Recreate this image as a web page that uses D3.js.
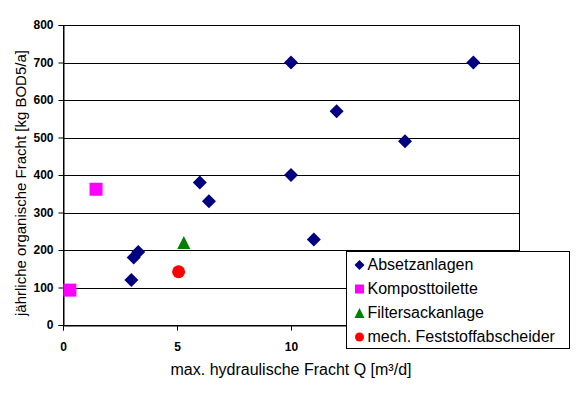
<!DOCTYPE html>
<html>
<head>
<meta charset="utf-8">
<script src="https://cdn.jsdelivr.net/npm/d3@7"></script>
<style>
  body { margin: 0; background: #fff; }
  text { font-family: "Liberation Sans", Arial, sans-serif; }
</style>
</head>
<body>
<div id="chart"></div>
<script>
// data
var absetzX = [3.0, 3.1, 3.3, 6.0, 6.4, 10, 10, 12.0, 15.0, 18.0, 11.0];
var absetzY = [120, 180, 195, 380, 330, 700, 400, 570, 490, 700, 228];
var kompostX = [0.3, 1.45];
var kompostY = [93, 362];
var filterX = [5.3];
var filterY = [220];
var mechX = [5.07];
var mechY = [142];

var seriesNames = ["Absetzanlagen", "Komposttoilette", "Filtersackanlage", "mech. Feststoffabscheider"];
var seriesColors = ["#000080", "#ff00ff", "#008000", "#ff0000"];

var xTicks = [0, 5, 10, 15, 20];
// 15 and 20 sit behind the legend box in the original, so no label shows
var xTickLabels = ["0", "5", "10", "", ""];
var yTicks = [0, 100, 200, 300, 400, 500, 600, 700, 800];

// square diamond (equal width and height), size = full diagonal
var diamond = {
    draw: function(ctx, s) {
        var r = s / 2;
        ctx.moveTo(0, -r); ctx.lineTo(r, 0); ctx.lineTo(0, r); ctx.lineTo(-r, 0); ctx.closePath();
    }
};
var square = {
    draw: function(ctx, s) {
        var r = s / 2;
        ctx.rect(-r, -r, s, s);
    }
};
var triangle = {
    draw: function(ctx, s) {
        var r = s / 2;
        ctx.moveTo(0, -r); ctx.lineTo(r, r); ctx.lineTo(-r, r); ctx.closePath();
    }
};
var circle = {
    draw: function(ctx, s) {
        var r = s / 2;
        ctx.moveTo(r, 0); ctx.arc(0, 0, r, 0, 2 * Math.PI);
    }
};
var seriesSymbols = [diamond, square, triangle, circle];

var width = 581, height = 398;
var margin = {top: 25, right: 62, bottom: 73, left: 63};
var plotW = width - margin.left - margin.right;
var plotH = height - margin.top - margin.bottom;

var svg = d3.select("#chart").append("svg")
    .attr("width", width)
    .attr("height", height);

var g = svg.append("g")
    .attr("transform", `translate(${margin.left},${margin.top})`);

var x = d3.scaleLinear().domain([0, 20]).range([0, plotW]);
var y = d3.scaleLinear().domain([0, 800]).range([plotH, 0]);

// gridlines
g.selectAll(".grid")
    .data(yTicks)
    .enter()
    .append("line")
    .attr("x1", 0)
    .attr("x2", plotW)
    .attr("y1", d => Math.round(y(d)) + 0.5)
    .attr("y2", d => Math.round(y(d)) + 0.5)
    .attr("stroke", "#000")
    .attr("stroke-width", 1);

// frame
g.append("rect")
    .attr("x", 0.5).attr("y", 0.5)
    .attr("width", plotW).attr("height", plotH)
    .attr("fill", "none").attr("stroke", "#000");

var leftAxis = d3.axisLeft(y).tickValues(yTicks).tickSize(5).tickPadding(5);
var bottomAxis = d3.axisBottom(x).tickValues(xTicks).tickSize(5).tickPadding(12)
    .tickFormat((d, i) => xTickLabels[i]);

var ya = g.append("g").attr("transform", "translate(0.5,0)").call(leftAxis);
var xa = g.append("g").attr("transform", `translate(0,${plotH + 0.5})`).call(bottomAxis);

[ya, xa].forEach(a => {
    a.select(".domain").attr("stroke", "#000");
    a.selectAll(".tick line").attr("stroke", "#000");
    a.selectAll(".tick text")
        .attr("fill", "#000")
        .style("font-size", "12px")
        .style("font-weight", "bold")
        .style("font-family", "'Liberation Sans', Arial, sans-serif");
});

// axis titles
svg.append("text")
    .attr("x", 291)
    .attr("y", 375)
    .attr("text-anchor", "middle")
    .style("font-size", "16px")
    .text("max. hydraulische Fracht Q [m³/d]");

svg.append("text")
    .attr("transform", "translate(26,183) rotate(-90)")
    .attr("text-anchor", "middle")
    .style("font-size", "15px")
    .text("jährliche organische Fracht [kg BOD5/a]");

// points
var series = [
    {xs: absetzX, ys: absetzY, size: 14},
    {xs: kompostX, ys: kompostY, size: 13},
    {xs: filterX, ys: filterY, size: 13},
    {xs: mechX, ys: mechY, size: 13}
];

series.forEach((s, i) => {
    var sym = d3.symbol().type(seriesSymbols[i]).size(s.size);
    g.selectAll(".pt" + i)
        .data(s.xs.map((v, j) => [v, s.ys[j]]))
        .enter()
        .append("path")
        .attr("d", sym)
        .attr("transform", d => `translate(${x(d[0])},${y(d[1])})`)
        .attr("fill", seriesColors[i]);
});

// legend
var legend = svg.append("g").attr("transform", "translate(346,251)");
legend.append("rect")
    .attr("x", 0.5).attr("y", 0.5)
    .attr("width", 223).attr("height", 97)
    .attr("fill", "#fff").attr("stroke", "#000");

var legendSizes = [10, 9, 10, 9];
seriesNames.forEach((name, i) => {
    var yy = 14 + i * 24;
    legend.append("path")
        .attr("d", d3.symbol().type(seriesSymbols[i]).size(legendSizes[i]))
        .attr("transform", `translate(13.5,${yy})`)
        .attr("fill", seriesColors[i]);
    legend.append("text")
        .attr("x", 21.5)
        .attr("y", yy + 5)
        .style("font-size", "16px")
        .text(name);
});
</script>
</body>
</html>
